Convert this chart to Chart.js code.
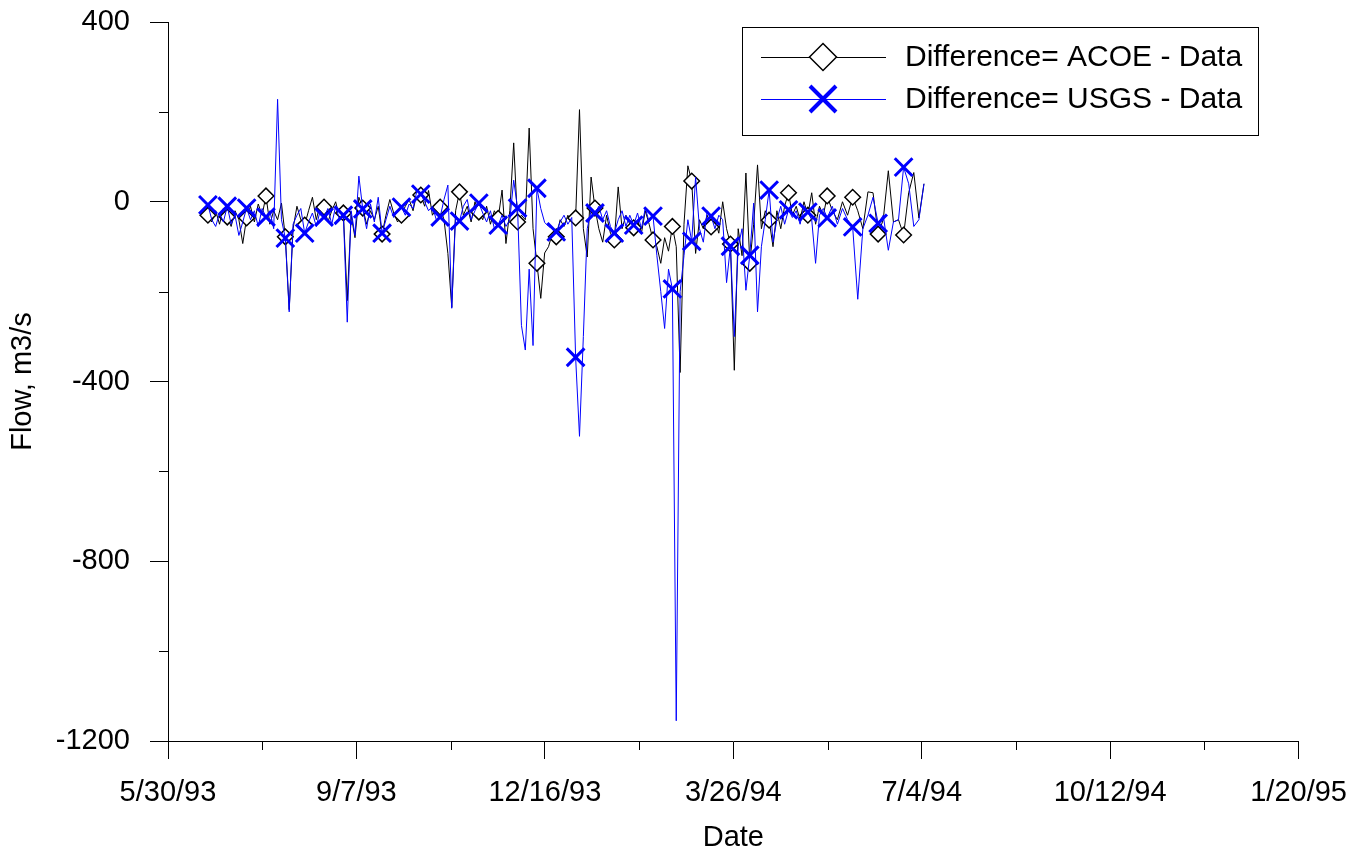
<!DOCTYPE html>
<html>
<head>
<meta charset="utf-8">
<script src="https://cdn.jsdelivr.net/npm/chart.js@4.4.1/dist/chart.umd.min.js"></script>
<style>
html,body{margin:0;padding:0;background:#fff;}
#wrap{width:1364px;height:852px;position:relative;}
</style>
</head>
<body>
<div id="wrap"><canvas id="c"></canvas></div>
<script>
// Difference = ACOE - Data (m3/s)
const acoeDiff = [
 -25,-30,-45,-20,-50,-15,-34,-55,-20,-40,
 -93,-36,-10,-45,-5,-30,13,-50,-20,-40,
 -3,-78,-240,-60,-10,-40,-52,-20,10,-40,
 -5,-12,-45,-20,0,-35,-25,-220,-30,-80,
 10,-14,-50,-20,-40,-10,-72,-30,5,-25,
 -45,-30,-10,5,-20,20,15,-10,25,-30,
 -15,-12,-40,-115,-235,-20,22,-30,-10,-45,
 0,-23,-40,-10,-50,-20,-37,26,-93,-20,
 131,-45,-30,-40,164,-60,-137,-215,-114,-100,
 -70,-78,-40,-55,-30,-45,-36,205,-60,-123,
 55,-14,-60,-90,-30,-70,-85,33,-60,-30,
 -50,-58,-40,-70,-20,-50,-85,-100,-137,-80,
 -110,-55,-100,-380,-50,80,46,-115,-40,-60,
 -30,-56,-40,-70,0,-60,-94,-375,-60,-120,
 64,-137,-50,82,-60,-20,-41,-100,-20,-60,
 -10,20,-30,-10,-40,0,-30,20,-50,-10,
 -30,13,-20,-40,0,-30,10,-20,-60,22,
 20,-72,-40,69,-45,-40,-74,20,65,-36,
 40
];
// Difference = USGS - Data (m3/s)
const usgsDiff = [
 -15,-7,-40,-55,-25,-45,-10,-50,-30,-75,
 -45,-14,-40,-20,-55,-15,-34,-20,-60,228,
 -40,-81,-245,-50,-30,-15,-70,-45,-25,-55,
 -20,-34,-15,-50,-10,-40,-30,-268,-20,-75,
 57,-16,-60,-5,-45,10,-70,-40,-10,-35,
 -20,-12,-30,-5,-15,25,17,0,-20,-10,
 -40,-34,5,37,-237,-30,-43,-10,5,-40,
 -20,-3,-25,-45,-20,-60,-52,-30,-55,-40,
 48,-14,-275,-330,-150,-320,30,-15,-46,-55,
 -60,-67,-45,-30,-50,-35,-346,-522,-300,-60,
 -20,-25,-10,-40,-20,-55,-70,-40,-20,-55,
 -30,-52,-25,-60,-14,-45,-32,-120,-200,-282,
 -150,-194,-1155,-200,-120,-40,-88,55,-60,-90,
 -20,-32,-60,-30,-40,-180,-99,-300,-100,-60,
 -197,-119,-3,-245,-100,-40,26,-90,-40,-10,
 -50,-18,-35,-20,-50,-10,-23,-40,-137,-30,
 -15,-36,-10,-50,-15,-40,-56,-217,-60,-30,
 10,-48,-30,-108,-45,-40,77,40,-55,-40,
 40
];
// sampling: days after 5/30/93
const firstDay = 19.13, stepDays = 2.054, tailFrom = 161, tailStepDays = 2.703;
const sampleDays = acoeDiff.map((_, i) => i <= tailFrom
  ? firstDay + stepDays * i
  : firstDay + stepDays * tailFrom + tailStepDays * (i - tailFrom));
const xTickDays = [0, 100, 200, 300, 400, 500, 600];
const xMinorDays = [50, 150, 250, 350, 450, 550];
const yTicks = [400, 0, -400, -800, -1200];
const yMinor = [200, -200, -600, -1000];
const seriesNames = ['Difference= ACOE - Data', 'Difference= USGS - Data'];

const FONT = '"Liberation Sans", Arial, Helvetica, sans-serif';
const BLUE = '#0000ff';

function dayLabel(d) {
  const dt = new Date(1993, 4, 30 + Math.round(d));
  return (dt.getMonth() + 1) + '/' + dt.getDate() + '/' + String(dt.getFullYear()).slice(2);
}

const minorTicks = {
  id: 'minorTicks',
  afterDraw(chart) {
    const ctx = chart.ctx, xs = chart.scales.x, ys = chart.scales.y;
    const ca = chart.chartArea;
    ctx.save();
    ctx.strokeStyle = '#000'; ctx.lineWidth = 1;
    ctx.beginPath();
    xMinorDays.forEach(d => {
      const px = Math.round(xs.getPixelForValue(d)) + 0.5;
      ctx.moveTo(px, ca.bottom); ctx.lineTo(px, ca.bottom + 9);
    });
    yMinor.forEach(v => {
      const py = Math.round(ys.getPixelForValue(v)) + 0.5;
      ctx.moveTo(ca.left, py); ctx.lineTo(ca.left - 9, py);
    });
    ctx.stroke();
    ctx.restore();
  }
};

const boxLegend = {
  id: 'boxLegend',
  afterDraw(chart) {
    const ctx = chart.ctx;
    ctx.save();
    ctx.strokeStyle = '#000'; ctx.lineWidth = 1;
    ctx.strokeRect(742.5, 27.5, 516, 108);
    const rows = [57, 99];
    ctx.beginPath(); ctx.moveTo(761, rows[0] + 0.5); ctx.lineTo(886, rows[0] + 0.5);
    ctx.strokeStyle = '#000'; ctx.lineWidth = 1; ctx.stroke();
    ctx.beginPath();
    const r = 13.5, cx = 823, cy = rows[0];
    ctx.moveTo(cx, cy - r); ctx.lineTo(cx + r, cy); ctx.lineTo(cx, cy + r); ctx.lineTo(cx - r, cy); ctx.closePath();
    ctx.fillStyle = '#fff'; ctx.fill(); ctx.lineWidth = 1.5; ctx.strokeStyle = '#000'; ctx.stroke();
    ctx.beginPath(); ctx.moveTo(761, rows[1] + 0.5); ctx.lineTo(886, rows[1] + 0.5);
    ctx.strokeStyle = BLUE; ctx.lineWidth = 1; ctx.stroke();
    ctx.beginPath();
    const h = 13, cy2 = rows[1];
    ctx.moveTo(cx - h, cy2 - h); ctx.lineTo(cx + h, cy2 + h);
    ctx.moveTo(cx + h, cy2 - h); ctx.lineTo(cx - h, cy2 + h);
    ctx.lineWidth = 4; ctx.strokeStyle = BLUE; ctx.stroke();
    ctx.fillStyle = '#000';
    ctx.font = '30px ' + FONT;
    ctx.textBaseline = 'middle'; ctx.textAlign = 'left';
    ctx.fillText(seriesNames[0], 905, rows[0] + 1);
    ctx.fillText(seriesNames[1], 905, rows[1] + 1);
    ctx.restore();
  }
};

const markEvery = 5, markOffset = 1;

new Chart(document.getElementById('c'), {
  type: 'line',
  data: {
    datasets: [
      {
        label: seriesNames[0],
        data: sampleDays.map((d, i) => ({x: d, y: acoeDiff[i]})),
        borderColor: '#000', borderWidth: 1, order: 2,
        pointStyle: 'rectRot',
        pointRadius: c => (c.dataIndex % markEvery === markOffset ? 7.8 : 0),
        pointBackgroundColor: '#fff', pointBorderColor: '#000', pointBorderWidth: 1.5,
        tension: 0, fill: false
      },
      {
        label: seriesNames[1],
        data: sampleDays.map((d, i) => ({x: d, y: usgsDiff[i]})),
        borderColor: BLUE, borderWidth: 1, order: 1,
        pointStyle: 'crossRot',
        pointRadius: c => (c.dataIndex % markEvery === markOffset ? 12.5 : 0),
        pointBackgroundColor: BLUE, pointBorderColor: BLUE, pointBorderWidth: 3,
        tension: 0, fill: false
      }
    ]
  },
  options: {
    responsive: true, maintainAspectRatio: false, animation: false,
    events: [],
    layout: {padding: {left: 0, top: 22, right: 64, bottom: 0}},
    plugins: {legend: {display: false}, tooltip: {enabled: false}},
    scales: {
      x: {
        type: 'linear', min: 0, max: 600,
        afterBuildTicks: s => { s.ticks = xTickDays.map(v => ({value: v})); },
        afterFit: s => { s.height = 111; },
        ticks: {callback: v => dayLabel(v), font: {family: FONT, size: 29}, color: '#000',
                padding: 17, maxRotation: 0, autoSkip: false},
        grid: {drawOnChartArea: false, tickLength: 18, color: '#000', tickColor: '#000', tickWidth: 1},
        border: {display: true, color: '#000', width: 1},
        title: {display: true, text: 'Date', color: '#000',
                font: {family: FONT, size: 29, lineHeight: 1}, padding: {top: 0, bottom: 0}}
      },
      y: {
        type: 'linear', min: -1200, max: 400,
        afterBuildTicks: s => { s.ticks = yTicks.map(v => ({value: v})); },
        afterFit: s => { s.width = 168; s.paddingTop = 0; s.paddingBottom = 0; },
        ticks: {callback: v => String(v), font: {family: FONT, size: 29}, color: '#000', padding: 20, autoSkip: false},
        grid: {drawOnChartArea: false, tickLength: 18, color: '#000', tickColor: '#000', tickWidth: 1},
        border: {display: true, color: '#000', width: 1},
        title: {display: true, text: 'Flow, m3/s', color: '#000',
                font: {family: FONT, size: 29, lineHeight: 1}, padding: {top: 8, bottom: 0}}
      }
    }
  },
  plugins: [minorTicks, boxLegend]
});
</script>
</body>
</html>
